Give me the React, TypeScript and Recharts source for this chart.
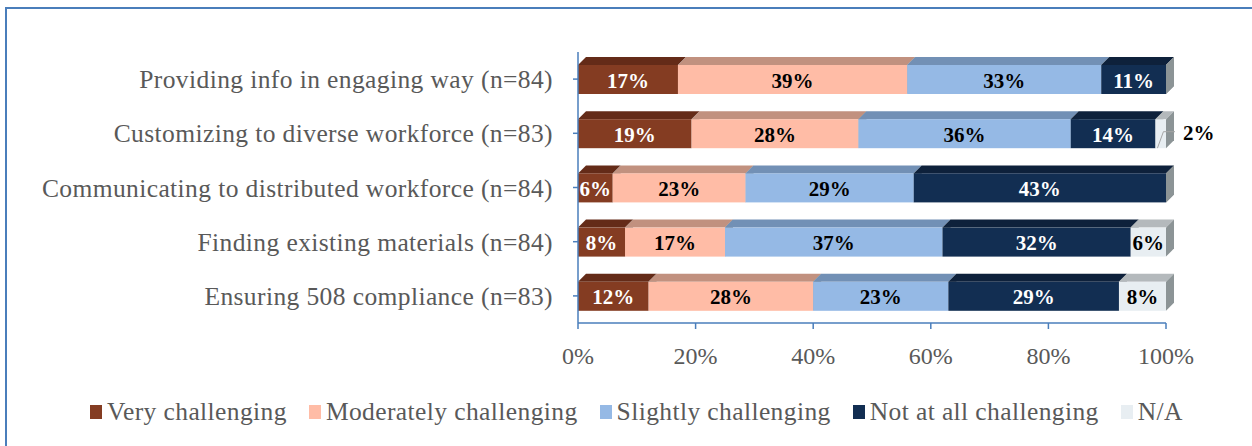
import { Bar, BarChart, LabelList, Legend, XAxis, YAxis } from "recharts";

const categories = [
  "Providing info in engaging way (n=84)",
  "Customizing to diverse workforce (n=83)",
  "Communicating to distributed workforce (n=84)",
  "Finding existing materials (n=84)",
  "Ensuring 508 compliance (n=83)",
];

// percent of respondents per answer
const veryChallenging = [17, 19.3, 5.9, 8, 12];
const moderatelyChallenging = [39, 28.4, 22.6, 17, 28];
const slightlyChallenging = [33, 36.1, 28.6, 37, 23];
const notAtAllChallenging = [11, 14.4, 42.9, 32, 29];
const notApplicable = [0, 1.8, 0, 6, 8];

const xTicks = [0, 20, 40, 60, 80, 100];

const SERIF = '"Liberation Serif", "Times New Roman", serif';
const AXIS_BLUE = "#4a7ebb";
const GREY_TEXT = "#595959";
const SIDE = "#8c9496";
const DEPTH = 8;

interface SeriesDef {
  key: string;
  name: string;
  front: string;
  top: string;
  label: string;
  values: number[];
}

const series: SeriesDef[] = [
  { key: "very", name: "Very challenging", front: "#843c22", top: "#642b18", label: "#ffffff", values: veryChallenging },
  { key: "moderately", name: "Moderately challenging", front: "#ffbca6", top: "#c1917f", label: "#000000", values: moderatelyChallenging },
  { key: "slightly", name: "Slightly challenging", front: "#95b9e5", top: "#7290b5", label: "#000000", values: slightlyChallenging },
  { key: "notAtAll", name: "Not at all challenging", front: "#122e52", top: "#0e213b", label: "#ffffff", values: notAtAllChallenging },
  { key: "na", name: "N/A", front: "#e8eef2", top: "#b4b9bc", label: "#000000", values: notApplicable },
];

const data = categories.map((name, i) => {
  const row: Record<string, string | number> = { name };
  series.forEach((s) => {
    row[s.key] = s.values[i];
  });
  return row;
});

function make3D(front: string, top: string) {
  return (props: any) => {
    const { x, y, width, height } = props;
    if (width == null || height == null || !Number.isFinite(x)) return <g />;
    const d = DEPTH;
    return (
      <g>
        <polygon
          points={`${x},${y} ${x + d},${y - d} ${x + width + d},${y - d} ${x + width},${y}`}
          fill={top}
        />
        <polygon
          points={`${x + width},${y} ${x + width + d},${y - d} ${x + width + d},${y + height - d} ${x + width},${y + height}`}
          fill={SIDE}
        />
        <rect x={x} y={y} width={width} height={height} fill={front} />
      </g>
    );
  };
}

function makeLabel(color: string) {
  return (props: any) => {
    const { x, y, width, height, value } = props;
    if (!value) return null;
    const r = Math.round(Number(value));
    const cy = y + height / 2;
    if (r < 4) {
      // too thin to hold its label: put it outside with a leader line
      return (
        <g>
          <polyline
            points={`${x + 2},${y + height} ${x + 8},${cy - 2} ${x + width + 9},${cy - 2}`}
            fill="none"
            stroke="#a6a6a6"
            strokeWidth={1}
          />
          <text
            x={x + width + 17}
            y={cy + 6}
            fill="#000"
            fontSize={21}
            fontWeight="bold"
            fontFamily={SERIF}
          >
            {r}%
          </text>
        </g>
      );
    }
    return (
      <text
        x={x + width / 2}
        y={cy + 8}
        textAnchor="middle"
        fill={color}
        fontSize={21}
        fontWeight="bold"
        fontFamily={SERIF}
      >
        {r}%
      </text>
    );
  };
}

function LegendContent() {
  return (
    <div
      style={{
        display: "flex",
        alignItems: "center",
        height: 30,
        paddingLeft: 90,
        fontFamily: SERIF,
        fontSize: 25.5,
        color: GREY_TEXT,
        letterSpacing: 0.4,
        whiteSpace: "nowrap",
      }}
    >
      {series.map((s) => (
        <div key={s.key} style={{ display: "flex", alignItems: "center", marginRight: 22 }}>
          <span
            style={{
              display: "inline-block",
              width: 12,
              height: 14,
              background: s.front,
              marginRight: 5,
            }}
          />
          <span>{s.name}</span>
        </div>
      ))}
    </div>
  );
}

export default function App() {
  return (
    <div
      style={{
        position: "fixed",
        left: 0,
        top: 0,
        width: 1252,
        height: 446,
        background: "#fff",
        overflow: "hidden",
      }}
    >
      <div
        style={{
          position: "absolute",
          left: 5,
          top: 7,
          width: 1400,
          height: 600,
          borderLeft: `2px solid ${AXIS_BLUE}`,
          borderTop: `2px solid ${AXIS_BLUE}`,
        }}
      />
      <div style={{ position: "absolute", left: 0, top: 0 }}>
        <BarChart
          width={1252}
          height={446}
          data={data}
          layout="vertical"
          margin={{ top: 52, right: 86, bottom: 53, left: 0 }}
          barCategoryGap={0}
        >
          <XAxis
            type="number"
            domain={[0, 100]}
            ticks={xTicks}
            tickFormatter={(v) => `${v}%`}
            height={40}
            tickSize={6}
            tickMargin={18}
            axisLine={{ stroke: AXIS_BLUE, strokeWidth: 1.5 }}
            tickLine={{ stroke: AXIS_BLUE, strokeWidth: 1.5 }}
            tick={{ fontSize: 24, fill: GREY_TEXT, fontFamily: SERIF }}
          />
          <YAxis
            type="category"
            dataKey="name"
            width={578}
            tickSize={5}
            tickMargin={20}
            interval={0}
            axisLine={{ stroke: AXIS_BLUE, strokeWidth: 1.5 }}
            tickLine={{ stroke: AXIS_BLUE, strokeWidth: 1.5 }}
            tick={{ fontSize: 25.5, fill: GREY_TEXT, fontFamily: SERIF, letterSpacing: 0.4 }}
          />
          <Legend
            content={<LegendContent />}
            wrapperStyle={{ top: 397, left: 0, width: 1252, bottom: "auto", height: 30 }}
          />
          {series.map((s) => (
            <Bar
              key={s.key}
              dataKey={s.key}
              name={s.name}
              stackId="a"
              barSize={29}
              fill={s.front}
              shape={make3D(s.front, s.top)}
              isAnimationActive={false}
            >
              <LabelList dataKey={s.key} content={makeLabel(s.label)} />
            </Bar>
          ))}
        </BarChart>
      </div>
    </div>
  );
}
